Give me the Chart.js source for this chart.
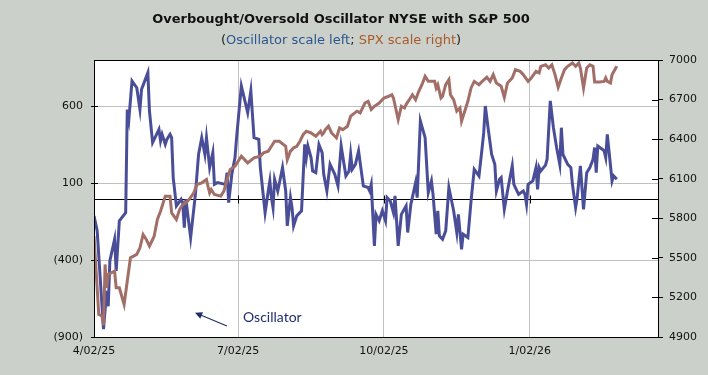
<!DOCTYPE html>
<html>
<head>
<meta charset="utf-8">
<script src="https://cdn.jsdelivr.net/npm/chart.js@4.4.1/dist/chart.umd.min.js"></script>
<style>
  html, body { margin: 0; padding: 0; background: #ccd0ca; }
  #wrap { width: 708px; height: 375px; }
</style>
</head>
<body>
<div id="wrap"><canvas id="chart" width="708" height="375"></canvas></div>
<script>
// x axis: dates (M/DD/YY), tick labels every 3 months
const tickDates = ['4/02/25', '7/02/25', '10/02/25', '1/02/26'];
const axisEndDate = '3/24/26';

// left axis ticks (oscillator), right axis ticks (SPX)
const leftTicks = [-900, -400, 100, 600];
const rightTicks = [4900, 5200, 5500, 5800, 6100, 6400, 6700, 7000];

const oscDates = [
  '4/2/25', '4/4/25', '4/8/25', '4/10/25', '4/11/25', '4/12/25', '4/15/25', '4/16/25', '4/18/25', '4/22/25',
  '4/23/25', '4/24/25', '4/26/25', '4/29/25', '5/1/25', '5/2/25', '5/6/25', '5/7/25', '5/9/25', '5/13/25',
  '5/14/25', '5/15/25', '5/17/25', '5/18/25', '5/20/25', '5/21/25', '5/22/25', '5/24/25', '5/27/25', '5/28/25',
  '5/29/25', '5/30/25', '6/2/25', '6/5/25', '6/7/25', '6/9/25', '6/11/25', '6/12/25', '6/14/25', '6/16/25',
  '6/17/25', '6/19/25', '6/24/25', '6/25/25', '6/26/25', '6/28/25', '6/30/25', '7/1/25', '7/4/25', '7/8/25',
  '7/10/25', '7/12/25', '7/15/25', '7/16/25', '7/19/25', '7/21/25', '7/22/25', '7/23/25', '7/24/25', '7/25/25',
  '7/27/25', '7/30/25', '8/1/25', '8/2/25', '8/4/25', '8/5/25', '8/6/25', '8/8/25', '8/11/25', '8/13/25',
  '8/14/25', '8/15/25', '8/17/25', '8/18/25', '8/20/25', '8/22/25', '8/24/25', '8/25/25', '8/27/25', '8/29/25',
  '9/1/25', '9/3/25', '9/5/25', '9/8/25', '9/10/25', '9/11/25', '9/12/25', '9/14/25', '9/16/25', '9/19/25',
  '9/22/25', '9/23/25', '9/24/25', '9/26/25', '9/27/25', '9/29/25', '10/1/25', '10/3/25', '10/4/25', '10/6/25',
  '10/8/25', '10/9/25', '10/11/25', '10/13/25', '10/16/25', '10/17/25', '10/19/25', '10/22/25', '10/23/25', '10/25/25',
  '10/28/25', '10/30/25', '11/1/25', '11/2/25', '11/4/25', '11/5/25', '11/6/25', '11/8/25', '11/10/25', '11/12/25',
  '11/15/25', '11/17/25', '11/18/25', '11/20/25', '11/21/25', '11/24/25', '11/26/25', '11/28/25', '12/1/25', '12/3/25',
  '12/4/25', '12/5/25', '12/7/25', '12/9/25', '12/11/25', '12/12/25', '12/14/25', '12/15/25', '12/17/25', '12/19/25',
  '12/22/25', '12/23/25', '12/26/25', '12/29/25', '12/30/25', '12/31/25', '1/1/26', '1/4/26', '1/6/26', '1/7/26',
  '1/8/26', '1/9/26', '1/12/26', '1/13/26', '1/15/26', '1/17/26', '1/19/26', '1/21/26', '1/22/26', '1/23/26',
  '1/26/26', '1/28/26', '1/29/26', '1/31/26', '2/1/26', '2/3/26', '2/5/26', '2/7/26', '2/9/26', '2/11/26',
  '2/12/26', '2/13/26', '2/14/26', '2/17/26', '2/18/26', '2/19/26', '2/20/26', '2/23/26', '2/24/26', '2/26/26'
];
const oscValues = [
  -113, -210, -849, -600, -700, -405, -265, -470, -145, -92,
  579, 514, 764, 720, 579, 709, 818, 569, 363, 449,
  374, 417, 352, 384, 417, 395, 136, -48, -5, -27,
  -189, -5, -254, 27, 287, 395, 287, 395, 201, 298,
  92, 103, 92, 168, -27, 157, 266, 395, 731, 558,
  699, 395, 384, 201, -92, 49, 114, 6, -59, 125,
  49, 201, 49, -178, 6, -59, -178, -113, -80, 352,
  266, 341, 266, 179, 168, 350, 298, 157, 49, 222,
  157, 82, 341, 147, 179, 287, 190, 222, 309, 82,
  71, 49, 92, -308, -103, -145, -80, -145, 6, -16,
  -92, 17, -308, -103, -48, -221, -38, 103, 6, 504,
  395, 38, 114, 27, -232, -80, -243, -265, -210, 71,
  -80, -221, -103, -330, -232, -254, -16, 190, 147, 331,
  428, 601, 439, 287, 222, 49, 125, 136, -70, 49,
  212, 92, 27, 49, 27, -38, 92, 114, 201, 60,
  201, 179, 217, 255, 634, 460, 331, 222, 460, 287,
  222, 201, 92, -59, 6, 212, -70, 168, 201, 255,
  331, 168, 341, 319, 309, 266, 417, 114, 147, 125
];

const spxDates = [
  '4/2/25', '4/5/25', '4/7/25', '4/8/25', '4/9/25', '4/10/25', '4/11/25', '4/15/25', '4/16/25', '4/18/25',
  '4/21/25', '4/25/25', '4/27/25', '4/29/25', '5/1/25', '5/3/25', '5/5/25', '5/7/25', '5/9/25', '5/10/25',
  '5/12/25', '5/14/25', '5/16/25', '5/17/25', '5/20/25', '5/21/25', '5/24/25', '5/26/25', '5/28/25', '5/30/25',
  '6/1/25', '6/4/25', '6/6/25', '6/9/25', '6/12/25', '6/13/25', '6/14/25', '6/15/25', '6/17/25', '6/21/25',
  '6/23/25', '6/25/25', '6/27/25', '6/30/25', '7/4/25', '7/8/25', '7/12/25', '7/16/25', '7/18/25', '7/21/25',
  '7/23/25', '7/25/25', '7/28/25', '8/1/25', '8/2/25', '8/4/25', '8/6/25', '8/8/25', '8/10/25', '8/12/25',
  '8/14/25', '8/17/25', '8/20/25', '8/23/25', '8/24/25', '8/25/25', '8/26/25', '8/28/25', '8/30/25', '9/2/25',
  '9/4/25', '9/6/25', '9/9/25', '9/11/25', '9/15/25', '9/17/25', '9/20/25', '9/22/25', '9/24/25', '9/26/25',
  '9/29/25', '10/2/25', '10/5/25', '10/7/25', '10/8/25', '10/11/25', '10/13/25', '10/15/25', '10/16/25', '10/18/25',
  '10/20/25', '10/22/25', '10/24/25', '10/26/25', '10/28/25', '10/30/25', '11/1/25', '11/3/25', '11/4/25', '11/5/25',
  '11/7/25', '11/8/25', '11/10/25', '11/12/25', '11/13/25', '11/15/25', '11/17/25', '11/19/25', '11/20/25', '11/22/25',
  '11/24/25', '11/26/25', '11/28/25', '12/1/25', '12/3/25', '12/6/25', '12/8/25', '12/10/25', '12/12/25', '12/15/25',
  '12/17/25', '12/19/25', '12/22/25', '12/24/25', '12/27/25', '12/29/25', '1/1/26', '1/3/26', '1/6/26', '1/8/26',
  '1/9/26', '1/12/26', '1/14/26', '1/16/26', '1/18/26', '1/20/26', '1/22/26', '1/24/26', '1/26/26', '1/29/26',
  '1/31/26', '2/2/26', '2/3/26', '2/5/26', '2/7/26', '2/9/26', '2/11/26', '2/12/26', '2/15/26', '2/18/26',
  '2/19/26', '2/20/26', '2/22/26', '2/23/26', '2/26/26'
];
const spxValues = [
  5665, 5071, 5060, 4990, 5450, 5273, 5374, 5400, 5273, 5273,
  5147, 5501, 5513, 5526, 5576, 5677, 5639, 5589, 5639, 5665,
  5791, 5854, 5930, 5968, 5968, 5841, 5791, 5866, 5904, 5917,
  5942, 5993, 6056, 6069, 6094, 6040, 5993, 6018, 5980, 5968,
  6006, 6094, 6170, 6195, 6271, 6220, 6258, 6271, 6296, 6309,
  6346, 6384, 6384, 6346, 6245, 6309, 6334, 6346, 6384, 6434,
  6460, 6447, 6422, 6460, 6434, 6447, 6472, 6498, 6447, 6409,
  6485, 6472, 6498, 6574, 6612, 6599, 6674, 6687, 6624, 6649,
  6674, 6712, 6725, 6737, 6712, 6548, 6649, 6636, 6662, 6699,
  6737, 6699, 6763, 6813, 6876, 6838, 6838, 6838, 6788, 6813,
  6712, 6725, 6813, 6851, 6737, 6699, 6612, 6636, 6536, 6612,
  6687, 6788, 6838, 6813, 6838, 6869, 6838, 6889, 6826, 6801,
  6717, 6826, 6864, 6927, 6914, 6889, 6838, 6864, 6914, 6902,
  6952, 6964, 6939, 6964, 6889, 6793, 6864, 6927, 6952, 6977,
  6952, 6977, 6939, 6788, 6939, 6964, 6952, 6833, 6833, 6838,
  6864, 6838, 6826, 6889, 6952
];

const OSC_COLOR = '#4a4e98';
const SPX_COLOR = '#a26f68';
const BG = '#ccd0ca';
const FONT = "'DejaVu Sans', Verdana, sans-serif";

function dayNum(s) {
  const [m, d, y] = s.split('/').map(Number);
  return Date.UTC(2000 + y, m - 1, d) / 86400000;
}
const day0 = dayNum(tickDates[0]);
const toX = s => dayNum(s) - day0;

function pairs(dates, values) {
  return dates.map((d, i) => ({ x: toX(d), y: values[i] }));
}

function fmtOsc(v) {
  return v < 0 ? '(' + Math.abs(v) + ')' : String(v);
}

// frame, zero line, inner tick stubs, title and annotation
const framePlugin = {
  id: 'frame',
  beforeDraw(chart) {
    const { ctx, chartArea: a } = chart;
    ctx.save();
    ctx.fillStyle = BG;
    ctx.fillRect(0, 0, chart.width, chart.height);
    ctx.fillStyle = '#fff';
    ctx.fillRect(a.left, a.top, a.right - a.left, a.bottom - a.top);
    ctx.restore();
  },
  beforeDatasetsDraw(chart) {
    const { ctx, chartArea: a, scales } = chart;
    const y0 = Math.round(scales.yL.getPixelForValue(0)) + 0.5;
    ctx.save();
    ctx.strokeStyle = '#000';
    ctx.lineWidth = 1;
    ctx.beginPath();
    ctx.moveTo(a.left, y0);
    ctx.lineTo(a.right, y0);
    tickDates.forEach(d => {
      const x = Math.round(scales.x.getPixelForValue(toX(d))) + 0.5;
      ctx.moveTo(x, y0 - 4);
      ctx.lineTo(x, y0 + 4);
    });
    leftTicks.forEach(v => {
      const y = Math.round(scales.yL.getPixelForValue(v)) + 0.5;
      ctx.moveTo(a.left, y);
      ctx.lineTo(a.left + 4, y);
    });
    rightTicks.forEach(v => {
      const y = Math.round(scales.yR.getPixelForValue(v)) + 0.5;
      ctx.moveTo(a.right - 6, y);
      ctx.lineTo(a.right, y);
    });
    ctx.stroke();
    ctx.restore();
  },
  afterDatasetsDraw(chart) {
    const { ctx, chartArea: a } = chart;
    ctx.save();
    ctx.strokeStyle = '#000';
    ctx.lineWidth = 1;
    ctx.strokeRect(Math.round(a.left) + 0.5, Math.round(a.top) + 0.5,
      Math.round(a.right - a.left), Math.round(a.bottom - a.top));
    ctx.restore();
  },
  afterDraw(chart) {
    const { ctx } = chart;
    const cx = 341;
    ctx.save();
    ctx.textBaseline = 'middle';
    ctx.textAlign = 'center';
    ctx.fillStyle = '#111';
    ctx.font = 'bold 13px ' + FONT;
    ctx.fillText('Overbought/Oversold Oscillator NYSE with S&P 500', cx, 20);

    const parts = [
      ['(', '#222'], ['Oscillator scale left', '#2a5590'], ['; ', '#222'],
      ['SPX scale right', '#a95a28'], [')', '#222']
    ];
    ctx.font = '13px ' + FONT;
    const total = parts.reduce((s, p) => s + ctx.measureText(p[0]).width, 0);
    let x = cx - total / 2;
    ctx.textAlign = 'left';
    parts.forEach(([t, c]) => {
      ctx.fillStyle = c;
      ctx.fillText(t, x, 41);
      x += ctx.measureText(t).width;
    });

    // annotation arrow and label
    ctx.strokeStyle = '#1f2f6e';
    ctx.fillStyle = '#1f2f6e';
    ctx.lineWidth = 1.2;
    ctx.beginPath();
    ctx.moveTo(227, 326);
    ctx.lineTo(197, 313.5);
    ctx.stroke();
    const ang = Math.atan2(313.5 - 326, 197 - 227);
    ctx.beginPath();
    ctx.moveTo(195, 312.7);
    ctx.lineTo(195 - 8 * Math.cos(ang - 0.45), 312.7 - 8 * Math.sin(ang - 0.45));
    ctx.lineTo(195 - 8 * Math.cos(ang + 0.45), 312.7 - 8 * Math.sin(ang + 0.45));
    ctx.closePath();
    ctx.fill();
    ctx.font = '14px Lato, sans-serif';
    ctx.textAlign = 'left';
    ctx.fillText('Oscillator', 243, 317);
    ctx.restore();
  }
};

const tickFont = { family: FONT, size: 11 };

new Chart(document.getElementById('chart'), {
  type: 'line',
  data: {
    datasets: [
      {
        label: 'SPX',
        data: pairs(spxDates, spxValues),
        yAxisID: 'yR',
        borderColor: SPX_COLOR,
        borderWidth: 3,
        pointRadius: 0,
        tension: 0,
        order: 0,
      },
      {
        label: 'Oscillator',
        data: pairs(oscDates, oscValues),
        yAxisID: 'yL',
        borderColor: OSC_COLOR,
        borderWidth: 3,
        pointRadius: 0,
        tension: 0,
        order: 1,
      },
    ],
  },
  options: {
    responsive: false,
    animation: false,
    devicePixelRatio: 1,
    layout: { padding: { top: 60, left: 0, right: 0, bottom: 0 } },
    plugins: { legend: { display: false }, tooltip: { enabled: false }, title: { display: false } },
    scales: {
      x: {
        type: 'linear',
        min: 0,
        max: toX(axisEndDate),
        afterBuildTicks: s => { s.ticks = tickDates.map(d => ({ value: toX(d) })); },
        afterFit: s => { s.height = 38; },
        ticks: {
          font: tickFont, color: '#111', padding: 8, maxRotation: 0, autoSkip: false,
          callback: v => tickDates.find(d => toX(d) === v) || '',
        },
        grid: { color: '#c0c0c0', drawTicks: false },
        border: { display: false },
      },
      yL: {
        position: 'left',
        min: -900,
        max: 900,
        afterBuildTicks: s => { s.ticks = leftTicks.map(v => ({ value: v })); },
        afterFit: s => { s.width = 94; },
        ticks: { font: tickFont, color: '#111', padding: 8, callback: fmtOsc },
        grid: { color: '#c0c0c0', tickColor: '#000', tickLength: 3 },
        border: { display: false },
      },
      yR: {
        position: 'right',
        min: 4900,
        max: 7000,
        afterBuildTicks: s => { s.ticks = rightTicks.map(v => ({ value: v })); },
        afterFit: s => { s.width = 50; },
        ticks: { font: tickFont, color: '#111', padding: 6, callback: v => String(v) },
        grid: { drawOnChartArea: false, tickColor: '#000', tickLength: 5 },
        border: { display: false },
      },
    },
  },
  plugins: [framePlugin],
});
</script>
</body>
</html>
